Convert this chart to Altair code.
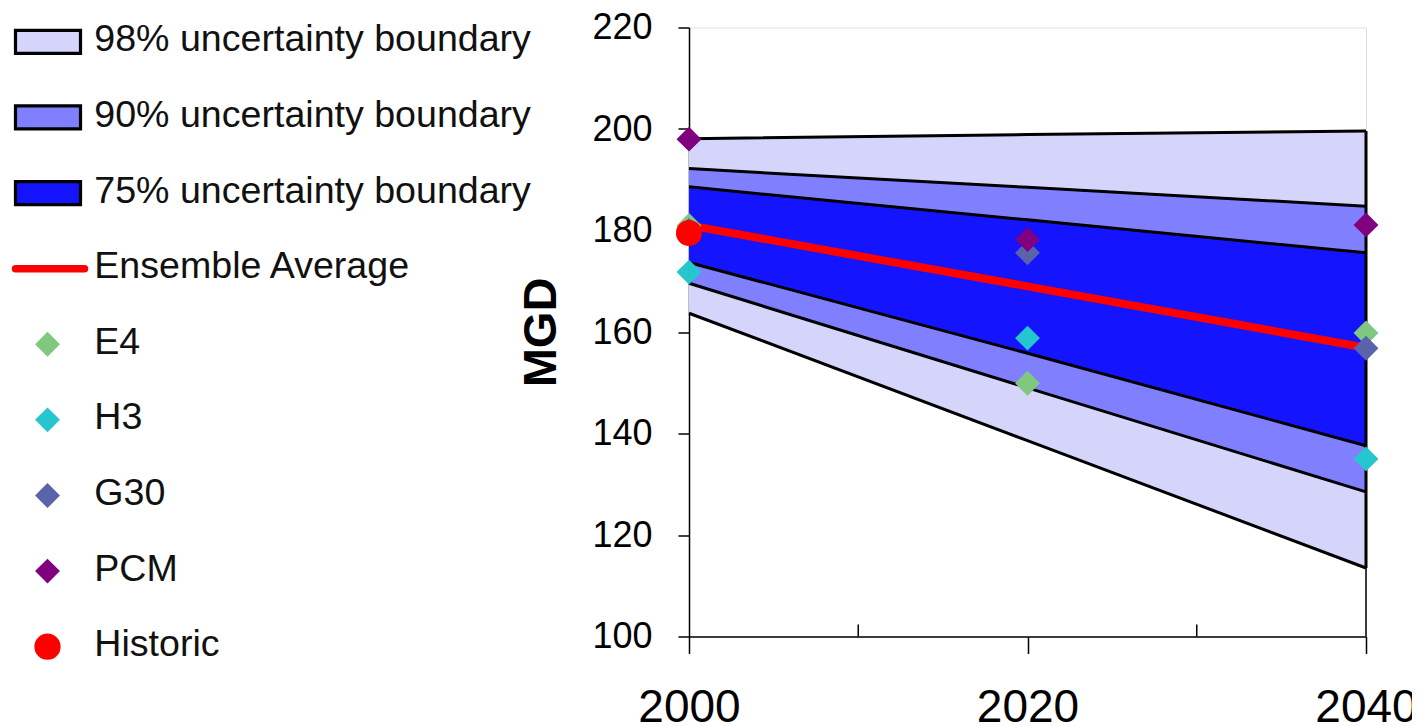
import altair as alt
import pandas as pd

FONT = "Liberation Sans, Arial, sans-serif"

# ---- data ----
years = [2000, 2020, 2040]
b98_lo = [163.7, 138.6, 113.5]
b98_hi = [198.1, 198.9, 199.6]
b90_lo = [169.6, 149.0, 128.5]
b90_hi = [192.2, 188.5, 184.8]
b75_lo = [173.7, 155.8, 137.6]
b75_hi = [188.6, 182.1, 175.6]
ensemble = [181.0, 169.0, 156.9]

e4 = [181.0, 149.9, 159.8]
h3 = [171.8, 158.8, 135.0]
g30 = [180.0, 175.6, 156.8]
pcm = [198.0, 178.2, 181.1]
historic_year = [2000]
historic = [179.5]

minor_years = [2010, 2030]

band_colors = ["#D5D5FB", "#8080FF", "#1414FF"]
model_names = ["E4", "H3", "G30", "PCM"]
model_colors = ["#80C880", "#26C6CF", "#5A62AA", "#800080"]
historic_color = "#FF0000"
ensemble_color = "#FF0000"

legend_labels = [
    "98% uncertainty boundary",
    "90% uncertainty boundary",
    "75% uncertainty boundary",
    "Ensemble Average",
    "E4",
    "H3",
    "G30",
    "PCM",
    "Historic",
]

W, H = 677, 609

# ---- scales / axes ----
xenc = alt.X(
    "year:Q",
    scale=alt.Scale(domain=[2000, 2040], nice=False, zero=False),
    axis=alt.Axis(
        values=[2000, 2020, 2040], format="d", title=None, grid=False,
        tickSize=17, tickWidth=1.5, tickColor="black",
        domainWidth=1.5, domainColor="black",
        labelFontSize=46, labelPadding=31.6, labelFlush=False,
        labelColor="black", labelFont=FONT,
    ),
)
yscale = alt.Scale(domain=[100, 220], nice=False, zero=False)
yaxis = alt.Axis(
    values=list(range(100, 221, 20)), title="MGD", grid=False,
    tickSize=11, tickWidth=1.5, tickColor="black",
    domainWidth=1.5, domainColor="black",
    labelFontSize=36, labelPadding=26, labelColor="black", labelFont=FONT,
    titleFont=FONT, titleFontSize=47, titleFontWeight="bold", titleColor="black",
    titleAngle=270, titleX=-148, titleY=304.5, titleAlign="center",
    titleBaseline="middle",
)


def yq(field):
    return alt.Y(field, scale=yscale, axis=yaxis)


# ---- bands ----
layers = []
for lo, hi, col in [(b98_lo, b98_hi, band_colors[0]),
                    (b90_lo, b90_hi, band_colors[1]),
                    (b75_lo, b75_hi, band_colors[2])]:
    df = pd.DataFrame({"year": years, "lo": lo, "hi": hi})
    layers.append(
        alt.Chart(df).mark_area(color=col, opacity=1, interpolate="linear")
        .encode(x=xenc, y=yq("lo:Q"), y2="hi:Q")
    )

# boundary lines
rows = []
for bid, arr in [("98lo", b98_lo), ("98hi", b98_hi), ("90lo", b90_lo),
                 ("90hi", b90_hi), ("75lo", b75_lo), ("75hi", b75_hi)]:
    for yr, v in zip(years, arr):
        rows.append({"bid": bid, "year": yr, "v": v})
bdf = pd.DataFrame(rows)
layers.append(
    alt.Chart(bdf).mark_line(color="black", strokeWidth=3)
    .encode(x=xenc, y=yq("v:Q"), detail="bid:N")
)

# right edge of the bands
edge = pd.DataFrame({"year": [years[-1]], "lo": [b98_lo[-1]], "hi": [b98_hi[-1]]})
layers.append(
    alt.Chart(edge).mark_rule(color="black", strokeWidth=1.5)
    .encode(x=xenc, y=yq("lo:Q"), y2=alt.value(H))
)
layers.append(
    alt.Chart(edge).mark_rule(color="black", strokeWidth=3)
    .encode(x=xenc, y=yq("lo:Q"), y2="hi:Q")
)

# minor ticks (inside)
mdf = pd.DataFrame({"year": minor_years})
layers.append(
    alt.Chart(mdf).mark_rule(color="black", strokeWidth=1.5)
    .encode(x=xenc, y=alt.value(H), y2=alt.value(H - 12))
)

# ensemble average
edf = pd.DataFrame({"year": years, "v": ensemble})
layers.append(
    alt.Chart(edf).mark_line(color=ensemble_color, strokeWidth=8)
    .encode(x=xenc, y=yq("v:Q"))
)

# model points
prow = []
for name, col, arr in zip(model_names, model_colors, [e4, h3, g30, pcm]):
    for yr, v in zip(years, arr):
        prow.append({"series": name, "year": yr, "v": v, "c": col,
                     "s": "diamond", "z": 620})
for yr, v in zip(historic_year, historic):
    prow.append({"series": "Historic", "year": yr, "v": v, "c": historic_color,
                 "s": "circle", "z": 680})
pdf = pd.DataFrame(prow)
layers.append(
    alt.Chart(pdf).mark_point(filled=True, opacity=1, strokeWidth=0)
    .encode(x=xenc, y=yq("v:Q"),
            color=alt.Color("c:N", scale=None),
            shape=alt.Shape("s:N", scale=None),
            size=alt.Size("z:Q", scale=None))
)

main = alt.layer(*layers)

# ---- legend (drawn at left of the plot) ----
lpos = list(range(len(legend_labels)))
ly = alt.Y("pos:Q", scale=alt.Scale(domain=[0, len(legend_labels) - 1],
                                     range=[14.3, 619.2]), axis=None)

box_df = pd.DataFrame({"pos": lpos[:3], "c": band_colors})
leg_box = alt.Chart(box_df).mark_rect(stroke="black", strokeWidth=3.2,
                                      yOffset=-11.5, y2Offset=11.5).encode(
    x=alt.value(-673.5), x2=alt.value(-608.5), y=ly, y2="pos:Q",
    color=alt.Color("c:N", scale=None))

line_df = pd.DataFrame({"pos": [lpos[3]]})
leg_line = alt.Chart(line_df).mark_rule(color=ensemble_color, strokeWidth=7.5,
                                        strokeCap="round").encode(
    x=alt.value(-673.5), x2=alt.value(-604.5), y=ly)

mk_df = pd.DataFrame({"pos": lpos[4:],
                      "c": model_colors + [historic_color],
                      "s": ["diamond"] * 4 + ["circle"],
                      "z": [620] * 4 + [690]})
leg_mk = alt.Chart(mk_df).mark_point(filled=True, opacity=1,
                                     strokeWidth=0).encode(
    x=alt.value(-641.5), y=ly,
    color=alt.Color("c:N", scale=None),
    shape=alt.Shape("s:N", scale=None),
    size=alt.Size("z:Q", scale=None))

txt_df = pd.DataFrame({"pos": lpos, "label": legend_labels})
leg_txt = alt.Chart(txt_df).mark_text(align="left", baseline="middle",
                                      fontSize=37.6, font=FONT, dy=-1.5,
                                      color="#111111").encode(
    x=alt.value(-594.7), y=ly, text="label:N")

legend = alt.layer(leg_box, leg_line, leg_mk, leg_txt)

chart = (
    alt.layer(main, legend)
    .resolve_scale(y="independent")
    .properties(
        width=W, height=H,
        padding={"left": 681, "top": 19.5, "right": 46, "bottom": 100},
        autosize=alt.AutoSizeParams(type="none"),
    )
    .configure_view(stroke=None)
    .configure(background="white")
)

chart.save("out.html", embed_options={"renderer": "svg", "actions": False})
